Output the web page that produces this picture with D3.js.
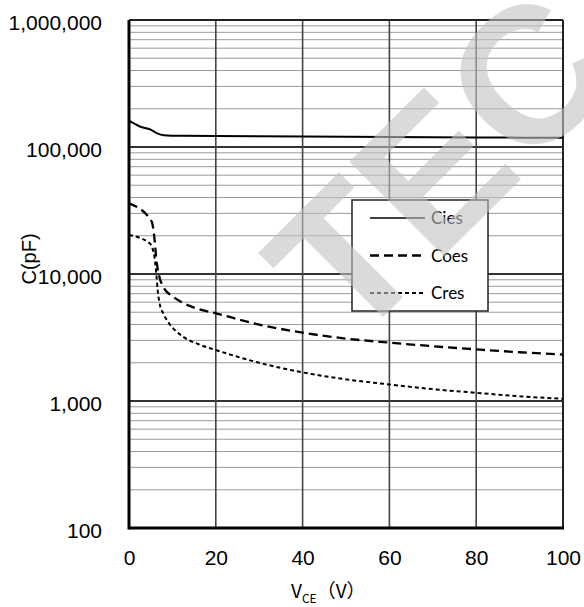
<!DOCTYPE html>
<html lang="en">
<head>
<meta charset="UTF-8">
<title>Capacitance vs VCE</title>
<script src="https://cdn.jsdelivr.net/npm/d3@7"></script>
<style>
  body { margin: 0; background: #fff; }
  .tick text { font-family: "Liberation Sans", Arial, sans-serif; font-size: 21px; fill: #000; }
  .legend text { font-family: Lato, "Open Sans", sans-serif; font-size: 17px; fill: #000; }
</style>
</head>
<body>
<svg width="584" height="607"></svg>
<script>
// values
const vceTicks = [0, 20, 40, 60, 80, 100];
const capTicks = [100, 1000, 10000, 100000, 1000000];

const ciesData = [[0, 161000], [2.5, 145000], [5, 137000], [6.5, 128000], [8, 124000],
  [12, 122500], [20, 122000], [40, 121000], [60, 120000], [80, 119000], [100, 118000]];
const coesData = [[0, 36000], [5.2, 26000], [5.8, 20000], [6.3, 13000], [7, 9500], [8, 7800],
  [10, 6700], [12.5, 5900], [16, 5300], [20, 4900], [30, 4000], [40, 3450], [50, 3100],
  [60, 2880], [70, 2700], [80, 2550], [90, 2420], [100, 2320]];
const cresData = [[0, 20300], [4.8, 17400], [5.8, 14000], [6.3, 10000], [6.6, 7500], [7, 6000],
  [8, 4800], [9, 4200], [12.5, 3200], [16, 2800], [20, 2520], [30, 2000], [40, 1680],
  [50, 1480], [60, 1350], [70, 1240], [80, 1160], [90, 1090], [100, 1040]];

const legendLabels = ["Cies", "Coes", "Cres"];
const watermark = "TEC";

const margin = {top: 20, right: 21, bottom: 79, left: 129},
      width = 584 - margin.left - margin.right,
      height = 607 - margin.top - margin.bottom;

const svg = d3.select("svg");
const g = svg.append("g")
    .attr("transform", `translate(${margin.left},${margin.top})`);

const x = d3.scaleLinear().domain([0, 100]).range([0, width]);
const y = d3.scaleLog().domain([100, 1000000]).range([height, 0]);

// minor horizontal grid
g.append("g")
  .selectAll("line")
  .data(y.ticks().filter(v => !capTicks.includes(v)))
  .join("line")
    .attr("x1", 0).attr("x2", width)
    .attr("y1", d => y(d)).attr("y2", d => y(d))
    .attr("stroke", "#9a9a9a")
    .attr("stroke-width", 1);

// decade lines
g.append("g")
  .selectAll("line")
  .data(capTicks.slice(1, -1))
  .join("line")
    .attr("x1", 0).attr("x2", width)
    .attr("y1", d => y(d)).attr("y2", d => y(d))
    .attr("stroke", "#333")
    .attr("stroke-width", 1.8);

// vertical grid
g.append("g")
  .selectAll("line")
  .data(vceTicks.slice(1, -1))
  .join("line")
    .attr("x1", d => x(d)).attr("x2", d => x(d))
    .attr("y1", 0).attr("y2", height)
    .attr("stroke", "#444")
    .attr("stroke-width", 1.6);

// frame
g.append("line").attr("x1", 0).attr("x2", width).attr("y1", 0).attr("y2", 0)
  .attr("stroke", "#222").attr("stroke-width", 1.8);
g.append("line").attr("x1", width).attr("x2", width).attr("y1", 0).attr("y2", height)
  .attr("stroke", "#222").attr("stroke-width", 2);
g.append("line").attr("x1", 0).attr("x2", 0).attr("y1", 0).attr("y2", height + 1.5)
  .attr("stroke", "#000").attr("stroke-width", 3);
g.append("line").attr("x1", 0).attr("x2", width + 1).attr("y1", height).attr("y2", height)
  .attr("stroke", "#000").attr("stroke-width", 3);

// axes
const yAxis = g.append("g")
    .call(d3.axisLeft(y).tickValues(capTicks).tickFormat(d3.format(",")).tickSize(0).tickPadding(27));
yAxis.select(".domain").remove();
yAxis.selectAll("text").attr("dy", "0.43em");

const xAxis = g.append("g")
    .attr("transform", `translate(0,${height})`)
    .call(d3.axisBottom(x).tickValues(vceTicks).tickSize(0).tickPadding(22));
xAxis.select(".domain").remove();

// axis titles
svg.append("text")
    .attr("transform", "translate(36,259) rotate(-90)")
    .attr("text-anchor", "middle")
    .style("font-family", "'Liberation Sans', Arial, sans-serif")
    .style("font-size", "20px")
    .text("C(pF)");

const xt = svg.append("text")
    .attr("x", 291)
    .attr("y", 598)
    .style("font-family", "'Noto Sans CJK SC', sans-serif")
    .style("font-size", "19px");
xt.append("tspan").text("V");
xt.append("tspan").attr("dy", 5).style("font-size", "12px").text("CE");
xt.append("tspan").attr("dy", -5).text("（V）");

// curves
const line = d3.line()
    .x(d => x(d[0]))
    .y(d => y(d[1]))
    .curve(d3.curveMonotoneX);

g.append("path").datum(ciesData)
    .attr("fill", "none").attr("stroke", "#000").attr("stroke-width", 2)
    .attr("d", line);
g.append("path").datum(coesData)
    .attr("fill", "none").attr("stroke", "#000").attr("stroke-width", 2.3)
    .attr("stroke-dasharray", "9,5")
    .attr("d", line);
g.append("path").datum(cresData)
    .attr("fill", "none").attr("stroke", "#000").attr("stroke-width", 2)
    .attr("stroke-dasharray", "4,3")
    .attr("d", line);

// legend
const legend = svg.append("g").attr("class", "legend");
legend.append("rect")
    .attr("x", 352).attr("y", 200)
    .attr("width", 136).attr("height", 111)
    .attr("fill", "#fff").attr("stroke", "#222").attr("stroke-width", 1.5);

const dashes = [null, "9,5", "4,3"];
const widths = [1.5, 2.3, 1.8];
legendLabels.forEach((name, i) => {
  const ly = 218 + i * 37.5;
  legend.append("line")
      .attr("x1", 370).attr("x2", 425)
      .attr("y1", ly).attr("y2", ly)
      .attr("stroke", "#000").attr("stroke-width", widths[i])
      .attr("stroke-dasharray", dashes[i]);
  legend.append("text")
      .attr("x", 431).attr("y", ly + 6)
      .text(name);
});

// watermark on top
svg.append("text")
    .attr("transform", "translate(351,349) rotate(-45)")
    .style("font-family", "'Liberation Sans', Arial, sans-serif")
    .style("font-weight", "bold")
    .style("font-size", "194px")
    .attr("fill", "rgb(193,193,193)")
    .attr("fill-opacity", 0.6)
    .text(watermark);
</script>
</body>
</html>
